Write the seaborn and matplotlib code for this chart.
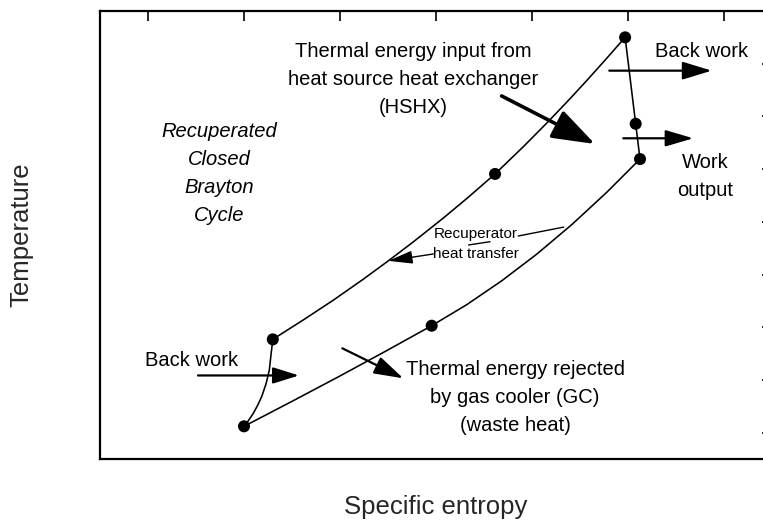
import matplotlib
matplotlib.use("Agg")
import matplotlib.pyplot as plt
import seaborn as sns

# state points of the cycle (entropy, temperature) - arbitrary units
state_s = [1.00, 1.30, 3.615, 4.97, 5.08, 5.125, 2.955]
state_T = [0.12, 1.77, 4.908, 7.50, 5.86, 5.191, 2.029]

# compressor (curved, from compressor exit down to cooler exit)
comp_s = [1.30, 1.281, 1.264, 1.229, 1.184, 1.141, 1.097, 1.047, 1.00]
comp_T = [1.77, 1.473, 1.189, 0.923, 0.682, 0.515, 0.367, 0.231, 0.12]

# high pressure side: recuperator cold side + HSHX
hp_s = [1.30, 1.618, 1.930, 2.243, 2.503, 2.764, 3.076, 3.336, 3.615,
        3.909, 4.153, 4.378, 4.570, 4.764, 4.97]
hp_T = [1.77, 2.139, 2.513, 2.912, 3.259, 3.620, 4.071, 4.466, 4.908,
        5.424, 5.872, 6.301, 6.680, 7.073, 7.50]

# low pressure side: recuperator hot side + gas cooler
lp_s = [1.00, 1.493, 1.982, 2.472, 2.955, 3.320, 3.684, 4.049, 4.414, 4.778, 5.125]
lp_T = [0.12, 0.587, 1.058, 1.542, 2.029, 2.428, 2.880, 3.386, 3.946, 4.559, 5.191]

# turbine
turb_s = [4.97, 5.08, 5.125]
turb_T = [7.50, 5.86, 5.191]

sns.set_style("white")
plt.rcParams["font.family"] = ["Liberation Sans", "DejaVu Sans"]

fig = plt.figure(figsize=(7.63, 5.29), dpi=100)
ax = fig.add_axes([100 / 763, 70 / 529, 672 / 763, 448 / 529])

for xs, ys in [(comp_s, comp_T), (hp_s, hp_T), (lp_s, lp_T), (turb_s, turb_T)]:
    sns.lineplot(x=xs, y=ys, sort=False, estimator=None, color="black", lw=1.15, ax=ax)
sns.scatterplot(x=state_s, y=state_T, color="black", s=75, edgecolor="none", ax=ax, zorder=5)

ax.set_xlim(-0.5, 6.5)
ax.set_ylim(-0.5, 8)
ax.set_xticks(range(7))
ax.set_yticks(range(8))
ax.tick_params(direction="in", length=7, width=1.2, top=True, right=True,
               labelbottom=False, labelleft=False, color="black")
for sp in ax.spines.values():
    sp.set_linewidth(1.6)
    sp.set_color("black")

ax.set_xlabel("Specific entropy", fontsize=18.5)
ax.set_ylabel("Temperature", fontsize=18.5)
ax.xaxis.set_label_coords(0.5, -0.08)
ax.yaxis.set_label_coords(-0.099, 0.5)


def arrow(start, end, lw, scale, hl, hw):
    ax.annotate("", xy=end, xytext=start,
                arrowprops=dict(arrowstyle=f"-|>,head_length={hl},head_width={hw}",
                                mutation_scale=scale, lw=lw, color="black",
                                shrinkA=0, shrinkB=0))


arrow((3.684, 6.388), (4.656, 5.477), 2.6, 22, 1.2, 0.42)
arrow((4.805, 6.868), (5.872, 6.868), 1.6, 10, 1.8, 0.55)
arrow((4.951, 5.585), (5.680, 5.585), 1.6, 10, 1.7, 0.5)
arrow((0.521, 1.085), (1.573, 1.085), 1.6, 10, 1.6, 0.5)
arrow((2.024, 1.601), (2.659, 1.031), 1.6, 10, 1.8, 0.55)
arrow((2.972, 3.390), (2.503, 3.259), 1.0, 10, 1.5, 0.4)
ax.plot([3.857, 4.33], [3.731, 3.90], color="black", lw=1.0)
ax.plot([3.340, 3.563], [3.561, 3.623], color="black", lw=1.0)

txt = dict(ha="center", va="center", fontsize=14.5, color="black",
           multialignment="center", linespacing=1.6)
ax.text(2.764, 6.697, "Thermal energy input from\nheat source heat exchanger\n(HSHX)", **txt)
ax.text(5.771, 7.229, "Back work", **txt)
ax.text(5.802, 4.857, "Work\noutput", **txt)
ax.text(0.740, 4.917, "Recuperated\nClosed\nBrayton\nCycle", style="italic", **txt)
ax.text(0.458, 1.360, "Back work", **txt)
ax.text(3.823, 0.661, "Thermal energy rejected\nby gas cooler (GC)\n(waste heat)", **txt)
ax.text(3.414, 3.576, "Recuperator\nheat transfer", ha="center", va="center",
        fontsize=11, color="black", linespacing=1.55)

fig.savefig("out.png", dpi=100)
